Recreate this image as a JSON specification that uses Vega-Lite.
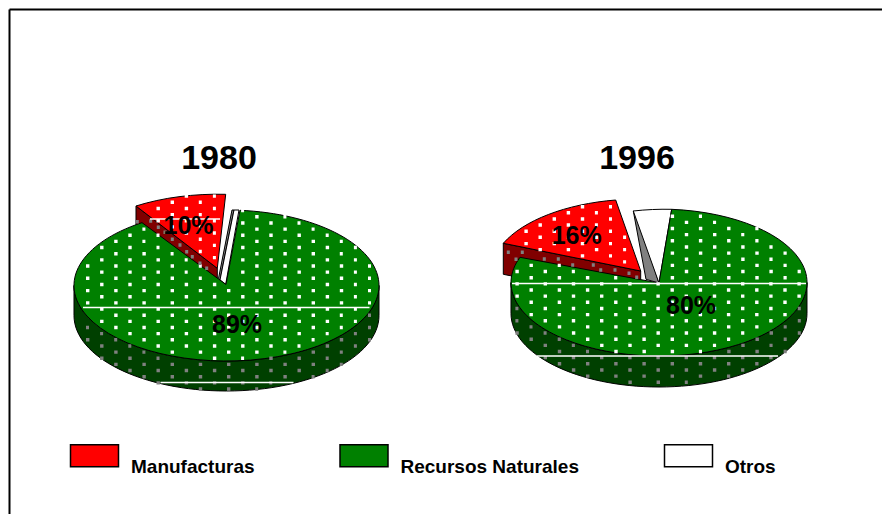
{"$schema":"https://vega.github.io/schema/vega-lite/v6.json","width":873,"height":505,"padding":{"left":9,"top":9,"right":0,"bottom":0},"autosize":{"type":"none"},"background":"white","config":{"view":{"stroke":null},"font":"Liberation Sans"},
"data":{"values":[
{"year":1980,"category":"Manufacturas","share":10,"label":"10%","slice":"1980 Manufacturas"},
{"year":1980,"category":"Otros","share":1,"label":"1%","slice":"1980 Otros"},
{"year":1980,"category":"Recursos Naturales","share":89,"label":"89%","slice":"1980 Recursos Naturales"},
{"year":1996,"category":"Manufacturas","share":16,"label":"16%","slice":"1996 Manufacturas"},
{"year":1996,"category":"Otros","share":4,"label":"4%","slice":"1996 Otros"},
{"year":1996,"category":"Recursos Naturales","share":80,"label":"80%","slice":"1996 Recursos Naturales"}]},
"encoding":{
"x":{"field":"year","type":"quantitative","scale":{"domain":[1971.9538,2004.2497],"nice":false,"zero":false},"axis":{"orient":"top","domain":true,"domainColor":"#000000","domainWidth":2,"ticks":false,"labels":false,"grid":false,"title":null}},
"y":{"datum":229.5,"type":"quantitative","scale":{"domain":[0,505],"nice":false,"zero":false},"axis":{"orient":"left","domain":true,"domainColor":"#000000","domainWidth":2,"ticks":false,"labels":false,"grid":false,"title":null}}},
"resolve":{"scale":{"shape":"independent","fill":"independent"}},
"layer":[
{"mark":{"type":"point","filled":true,"size":4,"opacity":1,"stroke":"#000000","strokeWidth":1},
"encoding":{"fill":{"field":"category","type":"nominal","legend":null,"scale":{"domain":["Manufacturas","Recursos Naturales","Otros"],"range":["#800000","#004000","#808080"]}},
"shape":{"field":"slice","type":"nominal","legend":null,"scale":{"domain":["1980 Manufacturas","1980 Otros","1980 Recursos Naturales","1996 Manufacturas","1996 Otros","1996 Recursos Naturales"],"range":[
"M-90.5,-78.5L-9.2,-16.2V13.8L-90.5,-48.5Z",
"M5.5,-74.5L-8,-6L-6.5,-4.5L7.5,-74.5Z",
"M-152.5,1V31A152.5,75.5,0,0,0,152.5,31V1A152.5,75.5,0,0,1,-152.5,1Z",
"M-155.7,-41.2L-18.3,-13.5V17.5L-155.7,-10.2Z",
"M-25.7,-73.5L-13,-5.2L0,-1.5L-23,-72.5Z",
"M-148,-2V29A148,73.5,0,0,0,148,29V-2A148,73.5,0,0,1,-148,-2Z"]}}}},
{"mark":{"type":"point","filled":true,"size":4,"opacity":1,"stroke":"#000000","strokeWidth":1},
"encoding":{"fill":{"field":"category","type":"nominal","title":null,"scale":{"domain":["Manufacturas","Recursos Naturales","Otros"],"range":["#ff0000","#008000","#ffffff"]},
"legend":{"orient":"none","legendX":76,"legendY":448,"direction":"horizontal","columns":3,"title":null,"symbolType":"M-24,-22H24V0H-24Z","symbolSize":4,"symbolStrokeColor":"#000000","symbolStrokeWidth":1.5,"labelOffset":27,"columnPadding":81.5,"labelFont":"Liberation Sans","labelFontWeight":"bold","labelFontSize":19,"labelColor":"#000000","labelLimit":400}},
"shape":{"field":"slice","type":"nominal","legend":null,"scale":{"domain":["1980 Manufacturas","1980 Otros","1980 Recursos Naturales","1996 Manufacturas","1996 Otros","1996 Recursos Naturales"],"range":[
"M-9.2,-16.2L-90.5,-78.5A152.5,75.5,0,0,1,-0.8,-90.2Z",
"M7.5,-74.5L-6.5,-4.5L-0.8,-0.2L12.5,-74.5Z",
"M-0.5,0L13.5,-74.2A152.5,75.5,0,1,1,-84.5,-61.85Z",
"M-18.3,-13.5L-155.7,-41.2A148,73.5,0,0,1,-43.3,-84.5Z",
"M-25.7,-73.5A148,73.5,0,0,1,12.7,-75.2L0,-1.5Z",
"M0,-1.5L12.7,-75.2A148,73.5,0,1,1,-139,-27.2Z"]}}}},
{"transform":[{"filter":"datum.category !== 'Otros'"}],
"mark":{"type":"point","filled":false,"size":4,"opacity":1,"stroke":"#ffffff","strokeWidth":3.4,"strokeDash":[3.4,24.8],"fill":null},
"encoding":{"shape":{"field":"slice","type":"nominal","legend":null,"scale":{"domain":["1980 Manufacturas","1980 Recursos Naturales","1996 Manufacturas","1996 Recursos Naturales"],"range":[
"M-41.8,-88.35H-10.6M-55.9,-82.2H-24.7M-70,-76.05H-10.6M-55.9,-69.9H-24.7M-70,-63.75H-10.6M-55.9,-57.6H-24.7M-41.8,-51.45H-10.6M-27.7,-45.3h3M-13.6,-39.15h3M-27.7,-33h3M-13.6,-26.85h3",
"M14.6,-73.85h3M28.7,-67.7H59.9M14.6,-61.55H74M-84.1,-55.4h3M28.7,-55.4H88.1M-98.2,-49.25H-67M14.6,-49.25H102.2M-112.3,-43.1H-81.1M28.7,-43.1H116.3M-126.4,-36.95H-67M14.6,-36.95H130.4M-112.3,-30.8H-52.9M28.7,-30.8H116.3M-126.4,-24.65H-38.8M14.6,-24.65H130.4M-140.5,-18.5H-24.7M28.7,-18.5H144.5M-126.4,-12.35H-38.8M14.6,-12.35H130.4M-140.5,-6.2H-24.7M28.7,-6.2H144.5M-126.4,-0.05H130.4M-140.5,6.1H144.5M-126.4,12.25H130.4M-140.5,18.4H144.5M-126.4,24.55H130.4M-112.3,30.7H116.3M-126.4,36.85H130.4M-112.3,43H116.3M-98.2,49.15H102.2M-84.1,55.3H88.1M-70,61.45H74M-55.9,67.6H59.9M-13.6,73.75H17.6",
"M-78.2,-77.8H-47M-106.4,-65.5H-47M-134.6,-53.2H-47M-134.6,-40.9H-47M-78.2,-28.6H-47M-92.3,-71.8H-61.1M-120.5,-59.5H-61.1M-120.5,-47.2H-32.9M-120.5,-34.9H-32.9M-35.9,-22.6h3",
"M11.7,-68.3H43M25.8,-62.15H57.1M11.7,-56H99.5M25.8,-49.85H85.3M11.7,-43.7H99.5M25.8,-37.55H113.6M11.7,-31.4H127.7M25.8,-25.25H113.6M-129.5,-19.1H-98.2M11.7,-19.1H127.7M-143.6,-12.95H-84.1M25.8,-12.95H141.8M-129.5,-6.8H-41.7M11.7,-6.8H127.7M-143.6,-0.65H141.8M-129.5,5.5H127.7M-143.6,11.65H141.8M-129.5,17.8H127.7M-115.4,23.95H113.6M-129.5,30.1H127.7M-115.4,36.25H113.6M-101.2,42.4H99.5M-87.1,48.55H85.3M-73,54.7H71.2M-58.9,60.85H57.1M-44.7,67H43"]}}}},
{"transform":[{"filter":"datum.category !== 'Otros'"}],
"mark":{"type":"point","filled":false,"size":4,"opacity":1,"stroke":"#808080","strokeWidth":3.4,"strokeDash":[3.4,24.8],"fill":null},
"encoding":{"shape":{"field":"slice","type":"nominal","legend":null,"scale":{"domain":["1980 Manufacturas","1980 Recursos Naturales","1996 Manufacturas","1996 Recursos Naturales"],"range":[
"M-90.7,-62.8h3M-77.3,-63.5h3M-69.7,-57.2h3M-63,-52.2h3M-55.7,-45.2h3M-48,-39.5h3M-41.3,-32.8h3M-35.7,-27.8h3M-28,-21.2h3M-21.3,-16.2h3",
"M141.5,30.7h3M-140.5,43h3M141.5,43h3M-140.5,55.3H-109.3M113.3,55.3H144.5M-112.3,67.6H-81.1M85.1,67.6H116.3M-112.3,79.9H116.3M-84.1,92.2H88.1M-27.7,104.5H31.7M-126.4,49.15h3M127.4,49.15h3M-126.4,61.45H-95.2M99.2,61.45H130.4M-126.4,73.75H-67M42.8,73.75H102.2M-98.2,86.05H102.2M-70,98.35H45.8",
"M-152.2,-32.2h3M-138.2,-32.2h3M-144.5,-25.2h3M-116.2,-25.5h3M-102.2,-25.5h3M-87.8,-19.5h3M-67.2,-19.5h3M-59.8,-14.5h3M-45.5,-14.5h3M-31.5,-11.2h3M-23.8,-7.2h3",
"M-129.5,42.4h3M124.7,42.4h3M-129.5,54.7H-98.2M96.5,54.7H127.7M-101.2,67H-70M68.2,67H127.7M-101.2,79.3H99.5M-73,91.6H71.2M-143.6,23.95h3M138.8,23.95h3M-143.6,36.25h3M138.8,36.25h3M-143.6,48.55H-112.4M110.6,48.55H141.8M-115.4,60.85H-84.1M82.3,60.85H113.6M-115.4,73.15H113.6M-87.1,85.45H85.3M-30.6,97.75H28.8"]}}}},
{"transform":[{"filter":"datum.slice !== '1996 Manufacturas' && datum.category !== 'Otros'"}],
"mark":{"type":"point","filled":false,"size":4,"opacity":1,"stroke":"#ffffff","strokeWidth":1.5,"fill":null},
"encoding":{"shape":{"field":"slice","type":"nominal","legend":null,"scale":{"domain":["1980 Manufacturas","1980 Recursos Naturales","1996 Recursos Naturales"],"range":[
"M-76.5,-65.5H-6.5",
"M-143.5,23H143M-66,98H67",
"M-147,-1H147M-122,71.5H119"]}}}},
{"transform":[{"filter":"datum.slice === '1980 Manufacturas'"}],"mark":{"type":"text","font":"Liberation Sans","fontWeight":"bold","fontSize":34,"color":"#000000","dx":-7.5,"dy":-125.5,"align":"center","baseline":"middle"},"encoding":{"text":{"field":"year","type":"nominal"}}},
{"transform":[{"filter":"datum.slice === '1996 Manufacturas'"}],"mark":{"type":"text","font":"Liberation Sans","fontWeight":"bold","fontSize":34,"color":"#000000","dx":-22,"dy":-125.5,"align":"center","baseline":"middle"},"encoding":{"text":{"field":"year","type":"nominal"}}},
{"transform":[{"filter":"datum.slice === '1980 Manufacturas'"}],"mark":{"type":"text","font":"Liberation Sans","fontWeight":"bold","fontSize":25,"color":"#000000","dx":-38,"dy":-59,"align":"center","baseline":"middle"},"encoding":{"text":{"field":"label","type":"nominal"}}},
{"transform":[{"filter":"datum.slice === '1980 Recursos Naturales'"}],"mark":{"type":"text","font":"Liberation Sans","fontWeight":"bold","fontSize":25,"color":"#000000","dx":10.5,"dy":40.5,"align":"center","baseline":"middle"},"encoding":{"text":{"field":"label","type":"nominal"}}},
{"transform":[{"filter":"datum.slice === '1996 Manufacturas'"}],"mark":{"type":"text","font":"Liberation Sans","fontWeight":"bold","fontSize":25,"color":"#000000","dx":-82.3,"dy":-48.8,"align":"center","baseline":"middle"},"encoding":{"text":{"field":"label","type":"nominal"}}},
{"transform":[{"filter":"datum.slice === '1996 Recursos Naturales'"}],"mark":{"type":"text","font":"Liberation Sans","fontWeight":"bold","fontSize":25,"color":"#000000","dx":32,"dy":21,"align":"center","baseline":"middle"},"encoding":{"text":{"field":"label","type":"nominal"}}}
]}
